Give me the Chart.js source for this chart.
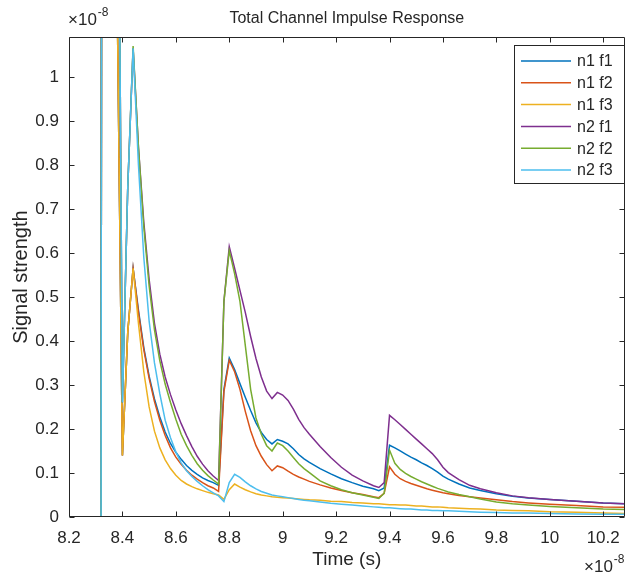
<!DOCTYPE html>
<html>
<head>
<meta charset="utf-8">
<title>Total Channel Impulse Response</title>
<script src="https://cdn.jsdelivr.net/npm/chart.js@4.4.1/dist/chart.umd.min.js"></script>
<style>
  html, body { margin: 0; padding: 0; background: #fff; }
  #wrap { width: 631px; height: 574px; }
</style>
</head>
<body>
<div id="wrap"><canvas id="myChart-impulse" width="631" height="574"></canvas></div>
<script>
// time, in units of 1e-8 s
const time = [
  8.20, 8.30, 8.32, 8.34, 8.36, 8.38, 8.40, 8.42, 8.44, 8.46,
  8.48, 8.50, 8.52, 8.54, 8.56, 8.58, 8.60, 8.62, 8.64, 8.66,
  8.68, 8.70, 8.72, 8.74, 8.76, 8.78, 8.80, 8.82, 8.84, 8.86,
  8.88, 8.90, 8.92, 8.94, 8.96, 8.98, 9.00, 9.02, 9.04, 9.06,
  9.08, 9.10, 9.14, 9.18, 9.22, 9.26, 9.30, 9.34, 9.36, 9.38,
  9.40, 9.42, 9.44, 9.46, 9.48, 9.50, 9.52, 9.54, 9.56, 9.58,
  9.60, 9.62, 9.66, 9.70, 9.74, 9.80, 9.86, 9.92, 10.0, 10.1,
  10.2, 10.28
];

// signal strength, in units of 1e-8
const n1f1 = [
  0, 0, 0, 15, 10, 1.2, 0.14, 0.42, 0.565, 0.47,
  0.385, 0.32, 0.268, 0.227, 0.193, 0.167, 0.147, 0.131, 0.117, 0.106,
  0.097, 0.089, 0.083, 0.078, 0.072, 0.29, 0.361, 0.335, 0.303, 0.272,
  0.242, 0.214, 0.192, 0.176, 0.166, 0.176, 0.172, 0.166, 0.155, 0.142,
  0.132, 0.124, 0.11, 0.098, 0.087, 0.078, 0.07, 0.064, 0.06, 0.066,
  0.163, 0.157, 0.15, 0.143, 0.136, 0.13, 0.123, 0.117, 0.11, 0.102,
  0.093, 0.086, 0.075, 0.066, 0.06, 0.053, 0.047, 0.043, 0.04, 0.036,
  0.032, 0.03
];
const n1f2 = [
  0, 0, 0, 15, 10, 1.2, 0.14, 0.42, 0.565, 0.465,
  0.38, 0.315, 0.262, 0.22, 0.185, 0.157, 0.136, 0.12, 0.106, 0.095,
  0.086, 0.078, 0.071, 0.066, 0.058, 0.285, 0.356, 0.33, 0.29, 0.24,
  0.196, 0.162, 0.138, 0.119, 0.105, 0.116, 0.112, 0.104, 0.097, 0.091,
  0.086, 0.081, 0.073, 0.066, 0.06, 0.055, 0.051, 0.046, 0.044, 0.054,
  0.114, 0.097, 0.087, 0.081, 0.076, 0.072, 0.068, 0.064, 0.061, 0.058,
  0.055, 0.053, 0.049, 0.046, 0.043, 0.039, 0.035, 0.032, 0.029, 0.026,
  0.023, 0.022
];
const n1f3 = [
  0, 0, 0, 15, 10, 1.2, 0.14, 0.42, 0.565, 0.44,
  0.33, 0.25, 0.195, 0.157, 0.13, 0.11, 0.095, 0.083, 0.075, 0.069,
  0.064, 0.06, 0.056, 0.053, 0.05, 0.04, 0.062, 0.075, 0.068, 0.062,
  0.057, 0.053, 0.05, 0.048, 0.046, 0.045, 0.044, 0.043, 0.042, 0.041,
  0.04, 0.039, 0.038, 0.036, 0.035, 0.033, 0.032, 0.03, 0.03, 0.029,
  0.028, 0.028, 0.027, 0.027, 0.026, 0.025, 0.025, 0.024, 0.023, 0.023,
  0.022, 0.021, 0.02, 0.019, 0.018, 0.016, 0.015, 0.014, 0.012, 0.011,
  0.009, 0.008
];
const n2f1 = [
  0, 0, 0, 15, 10, 2.0, 0.26, 0.75, 1.065, 0.84,
  0.67, 0.54, 0.44, 0.37, 0.318, 0.278, 0.243, 0.212, 0.185, 0.16,
  0.138, 0.12, 0.105, 0.093, 0.083, 0.49, 0.614, 0.565, 0.515, 0.465,
  0.41, 0.36, 0.318, 0.286, 0.269, 0.283, 0.277, 0.265, 0.245, 0.222,
  0.203, 0.188, 0.16, 0.135, 0.113, 0.095, 0.082, 0.071, 0.067, 0.078,
  0.231, 0.221, 0.21, 0.199, 0.188, 0.177, 0.166, 0.155, 0.144, 0.13,
  0.113, 0.101, 0.085, 0.072, 0.064, 0.055, 0.048, 0.044, 0.04, 0.036,
  0.032, 0.03
];
const n2f2 = [
  0, 0, 0, 15, 10, 2.0, 0.26, 0.75, 1.07, 0.84,
  0.66, 0.525, 0.425, 0.355, 0.302, 0.26, 0.222, 0.188, 0.162, 0.14,
  0.121, 0.106, 0.094, 0.084, 0.075, 0.49, 0.605, 0.553, 0.49, 0.39,
  0.29, 0.225, 0.188, 0.162, 0.15, 0.168, 0.162, 0.15, 0.135, 0.121,
  0.11, 0.101, 0.082, 0.071, 0.062, 0.055, 0.05, 0.045, 0.042, 0.054,
  0.152, 0.122, 0.108, 0.099, 0.092, 0.086, 0.08, 0.075, 0.07, 0.065,
  0.061, 0.057, 0.051, 0.046, 0.041, 0.034, 0.03, 0.027, 0.024, 0.021,
  0.018, 0.017
];
const n2f3 = [
  0, 0, 0, 15, 10, 2.0, 0.26, 0.75, 1.065, 0.80,
  0.59, 0.445, 0.35, 0.28, 0.22, 0.18, 0.148, 0.123, 0.105, 0.092,
  0.081, 0.071, 0.062, 0.055, 0.048, 0.035, 0.078, 0.097, 0.09, 0.08,
  0.071, 0.064, 0.058, 0.054, 0.05, 0.048, 0.046, 0.044, 0.042, 0.04,
  0.038, 0.037, 0.034, 0.031, 0.029, 0.027, 0.025, 0.023, 0.022, 0.021,
  0.021, 0.02, 0.019, 0.018, 0.018, 0.017, 0.016, 0.016, 0.015, 0.015,
  0.014, 0.014, 0.013, 0.012, 0.011, 0.01, 0.009, 0.009, 0.008, 0.007,
  0.006, 0.006
];

const seriesNames = ['n1 f1', 'n1 f2', 'n1 f3', 'n2 f1', 'n2 f2', 'n2 f3'];
const seriesValues = [n1f1, n1f2, n1f3, n2f1, n2f2, n2f3];
const seriesColors = ['#0072BD', '#D95319', '#EDB120', '#7E2F8E', '#77AC30', '#4DBEEE'];

const xTicks = [8.2, 8.4, 8.6, 8.8, 9, 9.2, 9.4, 9.6, 9.8, 10, 10.2];
const yTicks = [0, 0.1, 0.2, 0.3, 0.4, 0.5, 0.6, 0.7, 0.8, 0.9, 1];

const FONT = "'Liberation Sans', Arial, Helvetica, sans-serif";
const AXIS = '#262626';

// matlab style box, inward ticks, exponent labels and legend
const matlabAxes = {
    id: 'matlabAxes',
    afterDraw(chart) {
        const {ctx, chartArea: a, scales: {x, y}} = chart;
        const L = Math.round(a.left) + 0.5, R = Math.round(a.right) - 0.5;
        const T = Math.round(a.top) + 0.5, B = Math.round(a.bottom) - 0.5;
        ctx.save();
        ctx.strokeStyle = AXIS;
        ctx.lineWidth = 1;
        ctx.beginPath();
        ctx.rect(L, T, R - L, B - T);
        const len = 5;
        xTicks.forEach(v => {
            const px = Math.round(x.getPixelForValue(v)) + 0.5;
            ctx.moveTo(px, B); ctx.lineTo(px, B - len);
            ctx.moveTo(px, T); ctx.lineTo(px, T + len);
        });
        yTicks.forEach(v => {
            const py = Math.round(y.getPixelForValue(v)) + 0.5;
            ctx.moveTo(L, py); ctx.lineTo(L + len, py);
            ctx.moveTo(R, py); ctx.lineTo(R - len, py);
        });
        ctx.stroke();

        // x10^-8 labels
        ctx.fillStyle = AXIS;
        ctx.textBaseline = 'alphabetic';
        ctx.textAlign = 'left';
        const expo = (x0, y0) => {
            ctx.font = '17px ' + FONT;
            ctx.fillText('\u00d710', x0, y0);
            const w = ctx.measureText('\u00d710').width;
            ctx.font = '12px ' + FONT;
            ctx.fillText('-8', x0 + w + 1, y0 - 9);
        };
        expo(a.left - 1, 25);
        expo(584, 572);

        // legend
        const lx = 514, ly = 45, lw = 110, lh = 138;
        ctx.fillStyle = '#fff';
        ctx.fillRect(lx, ly, lw, lh);
        ctx.strokeStyle = AXIS;
        ctx.lineWidth = 1;
        ctx.strokeRect(lx + 0.5, ly + 0.5, lw, lh);
        ctx.font = '16px ' + FONT;
        ctx.textBaseline = 'middle';
        seriesNames.forEach((name, i) => {
            const ry = ly + 16 + i * 21.8;
            ctx.strokeStyle = seriesColors[i];
            ctx.lineWidth = 1.5;
            ctx.beginPath();
            ctx.moveTo(521, ry); ctx.lineTo(571, ry);
            ctx.stroke();
            ctx.fillStyle = AXIS;
            ctx.fillText(name, 577, ry + 1);
        });
        ctx.restore();
    }
};

const ctx1 = document.getElementById('myChart-impulse').getContext('2d');
const myChart1 = new Chart(ctx1, {
    type: 'line',
    data: {
        datasets: seriesNames.map((name, i) => ({
            label: name,
            data: time.map((t, k) => ({x: t, y: seriesValues[i][k]})),
            borderColor: seriesColors[i],
            backgroundColor: seriesColors[i],
            borderWidth: 1.5,
            pointRadius: 0,
            tension: 0,
            fill: false,
            order: seriesNames.length - i   // last series drawn on top, like matlab
        }))
    },
    options: {
        responsive: false,
        animation: false,
        layout: {padding: {top: 0, right: 1, left: 0, bottom: 0}},
        plugins: {
            legend: {display: false},
            tooltip: {enabled: false},
            title: {
                display: true,
                fullSize: false,
                text: 'Total Channel Impulse Response',
                color: AXIS,
                font: {family: FONT, size: 16, weight: 'normal'},
                padding: {top: 9, bottom: 9}
            }
        },
        scales: {
            x: {
                type: 'linear',
                min: 8.2,
                max: 10.28,
                afterFit: s => { s.height = 57; },
                grid: {display: false, drawTicks: false},
                border: {display: false},
                ticks: {
                    stepSize: 0.2,
                    includeBounds: false,
                    autoSkip: false,
                    maxRotation: 0,
                    padding: 11,
                    color: AXIS,
                    font: {family: FONT, size: 17},
                    callback: v => String(Math.round(v * 10) / 10)
                },
                title: {
                    display: true,
                    text: 'Time (s)',
                    color: AXIS,
                    font: {family: FONT, size: 19},
                    padding: {top: 0, bottom: 3}
                }
            },
            y: {
                type: 'linear',
                min: 0,
                max: 1.09,
                afterFit: s => { s.width = 69; },
                grid: {display: false, drawTicks: false},
                border: {display: false},
                ticks: {
                    stepSize: 0.1,
                    includeBounds: false,
                    padding: 10,
                    color: AXIS,
                    font: {family: FONT, size: 17},
                    callback: v => String(Math.round(v * 10) / 10)
                },
                title: {
                    display: true,
                    text: 'Signal strength',
                    color: AXIS,
                    font: {family: FONT, size: 20},
                    padding: {top: 9, bottom: 0}
                }
            }
        }
    },
    plugins: [matlabAxes]
});
</script>
</body>
</html>
